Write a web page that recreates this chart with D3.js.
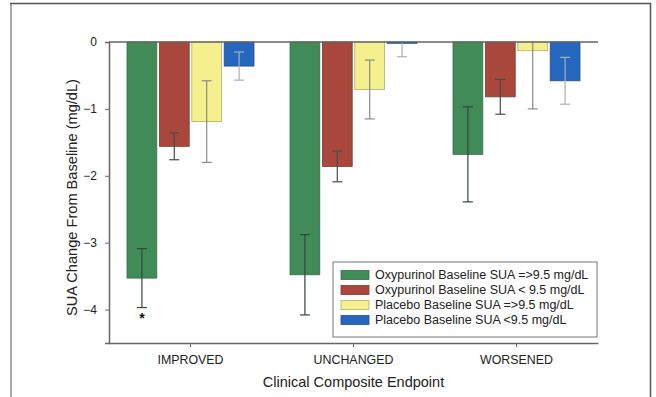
<!DOCTYPE html>
<html>
<head>
<meta charset="utf-8">
<script src="https://cdn.jsdelivr.net/npm/d3@7"></script>
<style>
  body { margin: 0; background: #fff; }
  svg { display: block; font-family: "Liberation Sans", Arial, sans-serif; }
</style>
</head>
<body>
<div id="chart"></div>
<script>
// data (mg/dL change from baseline)
const groups = ['IMPROVED', 'UNCHANGED', 'WORSENED'];
const seriesNames = [
  'Oxypurinol Baseline SUA =>9.5 mg/dL',
  'Oxypurinol Baseline SUA < 9.5 mg/dL',
  'Placebo Baseline SUA =>9.5 mg/dL',
  'Placebo Baseline SUA <9.5 mg/dL'
];
const oxyHigh = [-3.53, -3.48, -1.68];
const oxyLow = [-1.56, -1.86, -0.82];
const placeboHigh = [-1.19, -0.71, -0.13];
const placeboLow = [-0.36, -0.02, -0.58];
const oxyHighErr = [0.44, 0.60, 0.71];
const oxyLowErr = [0.20, 0.23, 0.26];
const placeboHighErr = [0.61, 0.44, 0.87];
const placeboLowErr = [0.21, 0.20, 0.35];
const yTicks = [0, -1, -2, -3, -4];

const fills = ['#418b58', '#a9473c', '#f4f08e', '#2566bf'];
const strokes = ['#36704a', '#7e3a32', '#b5ad6a', '#2a4f86'];
const errColors = ['#33483b', '#4d4a48', '#8a8a86', '#a9b0b8'];

const W = 656, H = 397;
const margin = { top: 42, right: 58, bottom: 54, left: 109 };
const width = W - margin.left - margin.right;
const height = H - margin.top - margin.bottom;

const svg = d3.select('#chart').append('svg')
  .attr('width', W).attr('height', H);

// scanned page frame
svg.append('line').attr('x1', 11).attr('x2', 11).attr('y1', 3).attr('y2', H)
  .attr('stroke', '#aaa').attr('stroke-width', 2);
svg.append('line').attr('x1', 10).attr('x2', 651).attr('y1', 3.5).attr('y2', 3.5)
  .attr('stroke', '#555').attr('stroke-width', 1.5);
svg.append('line').attr('x1', 650.5).attr('x2', 650.5).attr('y1', 3).attr('y2', H)
  .attr('stroke', '#555').attr('stroke-width', 1.5);

const g = svg.append('g').attr('transform', `translate(${margin.left},${margin.top})`);

const x = d3.scaleBand().domain(groups).range([0, width]).padding(0);
const xs = d3.scaleBand().domain(d3.range(4)).range([18, x.bandwidth() - 18]).paddingInner(0.08);
const y = d3.scaleLinear().domain([-4.5, 0]).range([height, 0]);

const values = [oxyHigh, oxyLow, placeboHigh, placeboLow];
const errs = [oxyHighErr, oxyLowErr, placeboHighErr, placeboLowErr];
const data = [];
groups.forEach((grp, i) => {
  values.forEach((vals, s) => {
    data.push({ grp, s, v: vals[i], e: errs[s][i] });
  });
});

g.selectAll('rect.bar').data(data).enter().append('rect')
  .attr('class', 'bar')
  .attr('x', d => x(d.grp) + xs(d.s))
  .attr('y', d => y(0))
  .attr('width', xs.bandwidth())
  .attr('height', d => y(d.v) - y(0))
  .attr('fill', d => fills[d.s])
  .attr('stroke', d => strokes[d.s])
  .attr('stroke-width', 0.8);

// error bars, clipped at zero
const capW = 10;
const eb = g.selectAll('g.err').data(data).enter().append('g')
  .attr('transform', d => `translate(${x(d.grp) + xs(d.s) + xs.bandwidth() / 2},0)`)
  .attr('stroke', d => errColors[d.s]).attr('stroke-width', 1.2);
eb.append('line')
  .attr('y1', d => y(Math.min(0, d.v + d.e)))
  .attr('y2', d => y(d.v - d.e));
eb.append('line')
  .attr('x1', -capW / 2).attr('x2', capW / 2)
  .attr('y1', d => y(d.v - d.e)).attr('y2', d => y(d.v - d.e));
eb.filter(d => d.v + d.e < 0).append('line')
  .attr('x1', -capW / 2).attr('x2', capW / 2)
  .attr('y1', d => y(d.v + d.e)).attr('y2', d => y(d.v + d.e));

// significance marker
g.append('text')
  .attr('x', x(groups[0]) + xs(0) + xs.bandwidth() / 2)
  .attr('y', y(oxyHigh[0] - oxyHighErr[0]) + 15)
  .attr('text-anchor', 'middle')
  .attr('font-size', 14).attr('font-weight', 'bold').attr('fill', '#111')
  .text('*');

// axes
const axisColor = '#666';
const yAxis = g.append('g').call(d3.axisLeft(y).tickValues(yTicks).tickSize(4).tickFormat(d3.format('d')));
yAxis.select('.domain').attr('stroke', axisColor).attr('stroke-width', 1.5);
yAxis.selectAll('.tick line').attr('stroke', axisColor);
yAxis.selectAll('.tick text').attr('font-size', 12).attr('fill', '#222').attr('x', -12)
  .attr('font-family', '"Liberation Sans", Arial, sans-serif');

const xAxis = g.append('g').attr('transform', `translate(0,${height})`)
  .call(d3.axisBottom(x).tickSize(4).tickSizeOuter(0));
xAxis.select('.domain').attr('stroke', axisColor).attr('stroke-width', 1.5);
xAxis.selectAll('.tick line').attr('stroke', axisColor);
xAxis.selectAll('.tick text').attr('font-size', 12.4).attr('fill', '#222')
  .attr('y', 17).attr('dy', '0.35em')
  .attr('font-family', '"Liberation Sans", Arial, sans-serif');

// zero line along the top
g.append('line').attr('x1', 0).attr('x2', width).attr('y1', y(0)).attr('y2', y(0))
  .attr('stroke', axisColor).attr('stroke-width', 1.5);

// titles
svg.append('text')
  .attr('transform', `translate(77,${margin.top + height / 2 + 5}) rotate(-90)`)
  .attr('text-anchor', 'middle').attr('font-size', 14.6).attr('fill', '#222')
  .text('SUA Change From Baseline (mg/dL)');
svg.append('text')
  .attr('x', margin.left + width / 2).attr('y', 387)
  .attr('text-anchor', 'middle').attr('font-size', 14.5).attr('fill', '#222')
  .text('Clinical Composite Endpoint');

// legend
const lg = svg.append('g').attr('transform', 'translate(333,262)');
lg.append('rect').attr('width', 264).attr('height', 75)
  .attr('fill', '#fff').attr('stroke', '#777').attr('stroke-width', 1);
const rows = lg.selectAll('g.row').data(seriesNames).enter().append('g')
  .attr('transform', (d, i) => `translate(8,${13 + i * 15})`);
rows.append('rect').attr('width', 28).attr('height', 9).attr('y', -4.5)
  .attr('fill', (d, i) => fills[i]).attr('stroke', (d, i) => strokes[i]).attr('stroke-width', 0.8);
rows.append('text').attr('x', 34).attr('dy', '0.35em')
  .attr('font-size', 12.5).attr('fill', '#222').text(d => d);
</script>
</body>
</html>
